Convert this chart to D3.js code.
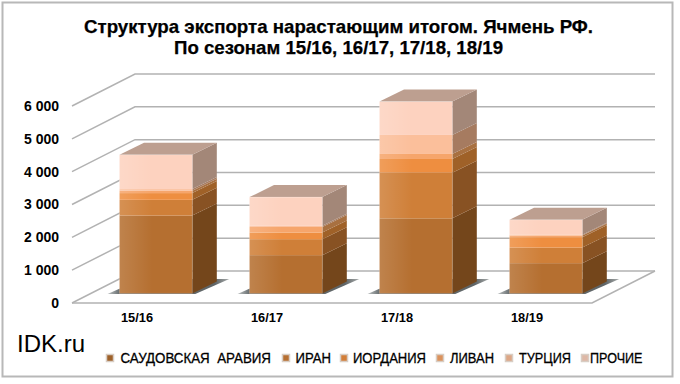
<!DOCTYPE html>
<html lang="en">
	<head>
		<meta charset="utf-8">
		<title>Структура экспорта</title>
		<script type="text/javascript" src="https://d3js.org/d3.v7.min.js"></script>
		<style type="text/css">
			html, body { margin: 0; padding: 0; background: #fff; }
			svg { display: block; }
			text { font-family: "Liberation Sans", Arial, sans-serif; fill: #000; }
		</style>
	</head>
	<body>
		<script type="text/javascript">

			// Data
			var seasons = ["15/16", "16/17", "17/18", "18/19"];
			var countries = ["САУДОВСКАЯ  АРАВИЯ", "ИРАН", "ИОРДАНИЯ", "ЛИВАН", "ТУРЦИЯ", "ПРОЧИЕ"];
			var saudi = [2372, 1165, 2286, 921];
			var iran = [478, 487, 1392, 475];
			var jordan = [205, 202, 416, 317];
			var lebanon = [70, 170, 153, 50];
			var turkey = [52, 34, 579, 20];
			var other = [1046, 875, 1016, 458];
			var yTicks = [0, 1000, 2000, 3000, 4000, 5000, 6000];

			// Colours
			var frontColors = ["#B56F30", "#CF7F38", "#EE8E40", "#F6A56B", "#FBBF9B", "#FDD2BF"];
			var sideColors = ["#74461B", "#885223", "#9F6128", "#A87040", "#A67B60", "#A38778"];
			var topColor = "#BD9F90";
			var gridColor = "#B2B2B2";

			var w = 680;
			var h = 384;

			// Depth of the 3D box and of one bar
			var wallDx = 63, wallDy = -32;
			var barInset = 0.3;		// how far into the floor the bars stand
			var barDx = 24.5, barDy = -12;

			var stackData = d3.stack().keys(d3.range(6)).value(function(d, k) { return d[k]; })(
				seasons.map(function(s, i) {
					return [saudi[i], iran[i], jordan[i], lebanon[i], turkey[i], other[i]];
				})
			);

			// Scales
			var xScale = d3.scaleBand().domain(seasons).range([72, 592]).paddingInner(0.44).paddingOuter(0.22);
			var yScale = d3.scaleLinear().domain([0, 6000]).range([303, 106]);

			var svg = d3.select("body").append("svg").attr("width", w).attr("height", h);

			svg.append("rect").attr("width", w).attr("height", h).attr("fill", "#fff");

			// Outer frame
			svg.append("rect")
			   .attr("x", 2.5).attr("y", 2.5)
			   .attr("width", 670).attr("height", 374)
			   .attr("fill", "none")
			   .attr("stroke", "#B8B8B8")
			   .attr("stroke-width", 2);

			var defs = svg.append("defs");

			// Floor shadow fades out on both ends
			var shadowGrad = defs.append("linearGradient").attr("id", "shadow").attr("x1", 0).attr("x2", 1).attr("y1", 0).attr("y2", 0);
			shadowGrad.append("stop").attr("offset", "0").attr("stop-color", "#C0C4C4");
			shadowGrad.append("stop").attr("offset", "0.09").attr("stop-color", "#6E7476");
			shadowGrad.append("stop").attr("offset", "0.88").attr("stop-color", "#5E6466");
			shadowGrad.append("stop").attr("offset", "1").attr("stop-color", "#A8ACAC");

			var sheen = defs.append("linearGradient").attr("id", "sheen").attr("x1", 0).attr("x2", 1).attr("y1", 0).attr("y2", 0);
			sheen.append("stop").attr("offset", "0").attr("stop-color", "#fff").attr("stop-opacity", 0.14);
			sheen.append("stop").attr("offset", "0.45").attr("stop-color", "#fff").attr("stop-opacity", 0);
			sheen.append("stop").attr("offset", "1").attr("stop-color", "#fff").attr("stop-opacity", 0);

			// Walls and floor
			var grid = svg.append("g")
				.attr("fill", "none")
				.attr("stroke", gridColor)
				.attr("stroke-width", 1.5);

			grid.selectAll("path.wall")
				.data(yTicks)
				.enter()
				.append("path")
				.attr("class", "wall")
				.attr("d", function(d) {
					var y0 = yScale(d);
					return d3.line()([[72, y0], [72 + wallDx, y0 + wallDy], [592 + wallDx, y0 + wallDy]]);
				});

			grid.append("path")
				.attr("d", d3.line()([[72, yScale(0)], [592, yScale(0)], [592 + wallDx, yScale(0) + wallDy]]));

			// Bars
			var barX = function(s) { return xScale(s) + wallDx * barInset; };
			var barY = function(v) { return yScale(v) + wallDy * barInset; };

			var bars = svg.append("g")
				.selectAll("g")
				.data(seasons)
				.enter()
				.append("g");

			// Shadow on the floor
			bars.append("path")
				.attr("fill", "url(#shadow)")
				.attr("d", function(s) {
					var x0 = barX(s), x1 = x0 + xScale.bandwidth(), y0 = barY(0) + 0.5;
					return d3.line()([[x0 - 12, y0], [x1 + 3, y0], [x1 + 37, y0 - 15], [x0 + 22, y0 - 15]]) + "Z";
				});

			stackData.forEach(function(layer, k) {
				// Side face
				bars.append("path")
					.attr("fill", sideColors[k])
					.attr("d", function(s, i) {
						var x1 = barX(s) + xScale.bandwidth();
						return d3.line()([
							[x1, barY(layer[i][0])],
							[x1 + barDx, barY(layer[i][0]) + barDy],
							[x1 + barDx, barY(layer[i][1]) + barDy],
							[x1, barY(layer[i][1])]
						]) + "Z";
					});
				// Front face
				bars.append("rect")
					.attr("x", barX)
					.attr("y", function(s, i) { return barY(layer[i][1]); })
					.attr("width", xScale.bandwidth())
					.attr("height", function(s, i) { return barY(layer[i][0]) - barY(layer[i][1]); })
					.attr("fill", frontColors[k]);
			});

			// Top face
			bars.append("path")
				.attr("fill", topColor)
				.attr("d", function(s, i) {
					var x0 = barX(s), x1 = x0 + xScale.bandwidth(), y1 = barY(stackData[5][i][1]);
					return d3.line()([[x0, y1], [x1, y1], [x1 + barDx, y1 + barDy], [x0 + barDx, y1 + barDy]]) + "Z";
				});

			// Light sheen and edge on the front
			bars.append("rect")
				.attr("x", barX)
				.attr("y", function(s, i) { return barY(stackData[5][i][1]); })
				.attr("width", xScale.bandwidth())
				.attr("height", function(s, i) { return barY(0) - barY(stackData[5][i][1]); })
				.attr("fill", "url(#sheen)")
				.attr("stroke", "#fff")
				.attr("stroke-opacity", 0.18);

			// Y axis
			var yAxis = d3.axisLeft(yScale)
				.tickValues(yTicks)
				.tickSize(0)
				.tickPadding(0)
				.tickFormat(function(d) { return d3.format(",")(d).replace(",", " "); });

			var yG = svg.append("g")
				.attr("transform", "translate(59,0)")
				.call(yAxis);
			yG.select(".domain").remove();
			yG.selectAll("text")
				.attr("font-size", 14)
				.attr("font-weight", "bold")
				.attr("fill", "#000")
				.style("font-family", "'Liberation Sans', Arial, sans-serif");

			// X labels
			svg.append("g")
				.selectAll("text")
				.data(seasons)
				.enter()
				.append("text")
				.attr("x", function(s) { return xScale(s) + xScale.bandwidth() / 2; })
				.attr("y", 322)
				.attr("text-anchor", "middle")
				.attr("font-size", 13)
				.attr("font-weight", "bold")
				.attr("textLength", 32)
				.attr("lengthAdjust", "spacingAndGlyphs")
				.text(function(s) { return s; });

			// Title
			svg.append("text")
				.attr("x", 84).attr("y", 33)
				.attr("font-size", 19)
				.attr("font-weight", "bold")
				.attr("stroke", "#000")
				.attr("stroke-width", 0.25)
				.attr("textLength", 509)
				.attr("lengthAdjust", "spacingAndGlyphs")
				.text("Структура экспорта нарастающим итогом. Ячмень РФ.");
			svg.append("text")
				.attr("x", 174).attr("y", 54)
				.attr("font-size", 19)
				.attr("font-weight", "bold")
				.attr("stroke", "#000")
				.attr("stroke-width", 0.25)
				.attr("textLength", 329)
				.attr("lengthAdjust", "spacingAndGlyphs")
				.text("По сезонам 15/16, 16/17, 17/18, 18/19");

			// Site label
			svg.append("text")
				.attr("x", 17).attr("y", 352)
				.attr("font-size", 24)
				.text("IDK.ru");

			// Legend
			var legendMark = [106, 282, 340, 436, 505, 581];
			var legendText = [120.5, 295.5, 353, 450, 519, 590];
			var legendEnd = [271, 331, 426, 494, 571, 642.5];

			var legend = svg.append("g")
				.selectAll("g")
				.data(countries)
				.enter()
				.append("g");

			legend.append("rect")
				.attr("x", function(d, i) { return legendMark[i] + 0.5; })
				.attr("y", 354.5)
				.attr("width", 7)
				.attr("height", 7)
				.attr("fill", function(d, i) { return d3.interpolateRgb(frontColors[i], sideColors[i])(0.35); })
				.attr("stroke", "#D8CDC4")
				.attr("stroke-width", 1.5);

			legend.append("text")
				.attr("x", function(d, i) { return legendText[i]; })
				.attr("y", 363)
				.attr("font-size", 14)
				.attr("stroke", "#000")
				.attr("stroke-width", 0.3)
				.attr("textLength", function(d, i) { return legendEnd[i] - legendText[i]; })
				.attr("lengthAdjust", "spacingAndGlyphs")
				.style("white-space", "pre")
				.text(function(d) { return d; });

		</script>
	</body>
</html>
